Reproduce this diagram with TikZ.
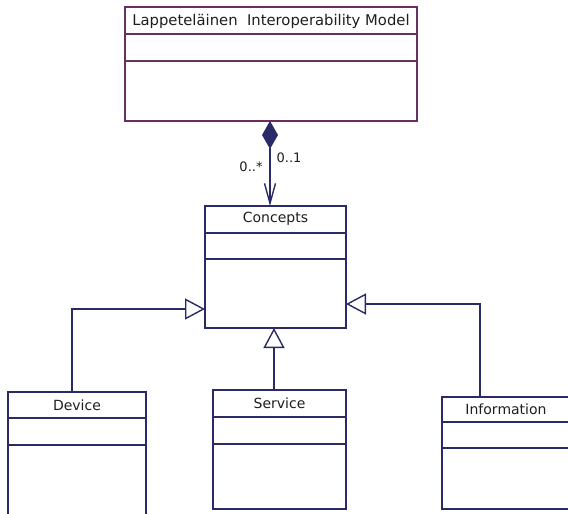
\documentclass[tikz,border=0pt]{standalone}
\usepackage{fontspec}
\setmainfont{DejaVu Sans}
\usetikzlibrary{arrows.meta,positioning,calc}
\definecolor{umlpurple}{RGB}{104,48,98}
\definecolor{umlnavy}{RGB}{42,42,102}
\definecolor{umltext}{RGB}{30,30,30}

\begin{document}
\begin{tikzpicture}[
    x=1pt, y=-1pt,
    umlclass/.style={rectangle, draw=umlnavy, line width=1.4pt, inner sep=0pt,
        outer sep=0pt, anchor=north west},
    rootclass/.style={umlclass, draw=umlpurple},
    cname/.style={font=\fontsize{14}{16}\selectfont, text=umltext, inner sep=0pt},
    mult/.style={font=\fontsize{13}{15}\selectfont, text=umltext, inner sep=0pt},
    sepline/.style={draw=umlnavy, line width=1.4pt},
    gen/.style={-{Triangle[open, length=20pt, width=21pt]}, line width=1.4pt, umlnavy},
    comp/.style={{Diamond[length=28pt, width=16pt]}-{Straight Barb[length=20pt, width=11pt]},
        line width=1.4pt, umlnavy}
]
    \useasboundingbox (0,0) rectangle (568,514);
    \clip (0,0) rectangle (568,514);

    % classes
    \node[rootclass, minimum width=292pt, minimum height=114pt] (model) at (125,7) {};
    \node[umlclass, minimum width=141pt, minimum height=122pt] (concepts) at (205,206) {};
    \node[umlclass, minimum width=138pt, minimum height=150pt] (device) at (8,392) {};
    \node[umlclass, minimum width=133pt, minimum height=119pt] (service) at (213,390) {};
    \node[umlclass, minimum width=128pt, minimum height=112pt] (information) at (442,397) {};

    \node[cname, font=\fontsize{14.8}{16}\selectfont] (modelname) at ($(model.north)+(0,14)$) {Lappeteläinen\ \ Interoperability Model};
    \node[cname] (conceptsname) at ($(concepts.north)+(0,13)$) {Concepts};
    \node[cname] (devicename) at ($(device.north)+(0,13)$) {Device};
    \node[cname] (servicename) at ($(service.north)+(0,13)$) {Service};
    \node[cname] (informationname) at ($(information.north)+(0,12)$) {Information};

    % compartments
    \draw[sepline, umlpurple] ($(model.north west)+(0,27)$) -- ($(model.north east)+(0,27)$);
    \draw[sepline, umlpurple] ($(model.north west)+(0,54)$) -- ($(model.north east)+(0,54)$);
    \draw[sepline] ($(concepts.north west)+(0,27)$) -- ($(concepts.north east)+(0,27)$);
    \draw[sepline] ($(concepts.north west)+(0,53)$) -- ($(concepts.north east)+(0,53)$);
    \draw[sepline] ($(device.north west)+(0,26)$) -- ($(device.north east)+(0,26)$);
    \draw[sepline] ($(device.north west)+(0,53)$) -- ($(device.north east)+(0,53)$);
    \draw[sepline] ($(service.north west)+(0,27)$) -- ($(service.north east)+(0,27)$);
    \draw[sepline] ($(service.north west)+(0,54)$) -- ($(service.north east)+(0,54)$);
    \draw[sepline] ($(information.north west)+(0,25)$) -- ($(information.north east)+(0,25)$);
    \draw[sepline] ($(information.north west)+(0,51)$) -- ($(information.north east)+(0,51)$);

    % composition
    \coordinate (axis) at (270,0);
    \draw[comp] (model.south -| axis) -- (concepts.north -| axis);
    \node[mult] (multmany) at (251,167) {0..*};
    \node[mult] (multone) at (289,158) {0..1};

    % generalisations
    \coordinate (servicetop) at ($(service.north west)+(61,0)$);
    \draw[gen] ($(device.north)+(-5,0)$) |- ($(concepts.south west)+(0,-19)$);
    \draw[gen] (servicetop) -- (servicetop |- concepts.south);
    \draw[gen] ($(information.north west)+(38,0)$) |- ($(concepts.south east)+(0,-24)$);
\end{tikzpicture}
\end{document}
